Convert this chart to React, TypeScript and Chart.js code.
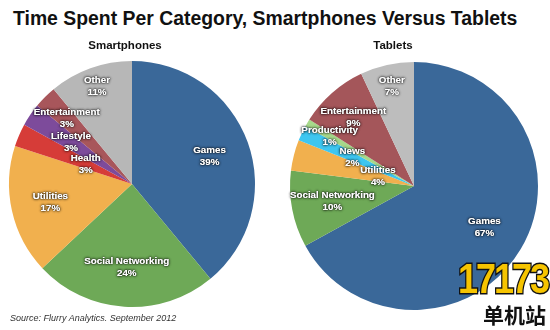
import React, { useEffect, useRef } from "react";
import { Chart, registerables } from "chart.js";

Chart.register(...registerables);

// ---- data ----
const smartCategories = ["Games", "Social Networking", "Utilities", "Health", "Lifestyle", "Entertainment", "Other"];
const smartValues = [39, 24, 17, 3, 3, 3, 11];

const tabletCategories = ["Games", "Social Networking", "Utilities", "News", "Productivity", "Entertainment", "Other"];
const tabletValues = [67, 10, 4, 2, 1, 9, 7];

// ---- styles ----
const smartColors = ["#3A6899", "#6EA957", "#F1B04E", "#D63C38", "#7D4B9B", "#A8565B", "#B7B7B7"];
const tabletColors = ["#3A6899", "#6EA957", "#F1B04E", "#3EC6F0", "#A7D98B", "#A4565A", "#BDBDBD"];
// radial position of each slice label, as a fraction of the pie radius
const smartLabelRadius = [0.67, 0.68, 0.68, 0.41, 0.6, 0.75, 0.84];
const tabletLabelRadius = [0.66, 0.67, 0.3, 0.55, 0.79, 0.74, 0.82];

const FONT = "'Liberation Sans', Arial, Helvetica, sans-serif";

const sliceLabels = {
  id: "sliceLabels",
  afterDatasetsDraw(chart: any, _args: any, opts: any) {
    const ctx = chart.ctx;
    const meta = chart.getDatasetMeta(0);
    const ds = chart.data.datasets[0];
    const labels = chart.data.labels;
    const radii: number[] = opts.radii || [];
    ctx.save();
    ctx.font = `bold 9.8px ${FONT}`;
    ctx.textAlign = "center";
    ctx.textBaseline = "middle";
    meta.data.forEach((arc: any, i: number) => {
      const p = arc.getProps(["x", "y", "startAngle", "endAngle", "outerRadius"], true);
      const mid = (p.startAngle + p.endAngle) / 2;
      const r = p.outerRadius * (radii[i] ?? 0.65);
      const x = p.x + Math.cos(mid) * r;
      const y = p.y + Math.sin(mid) * r;
      const lines = [String(labels[i]), `${ds.data[i]}%`];
      lines.forEach((t, k) => {
        const ty = y + (k - 0.5) * 12;
        ctx.shadowColor = "rgba(0,0,0,0.9)";
        ctx.shadowBlur = 2.5;
        ctx.shadowOffsetX = 0;
        ctx.shadowOffsetY = 0;
        ctx.fillStyle = "#ffffff";
        ctx.fillText(t, x, ty);
        ctx.fillText(t, x, ty);
      });
    });
    ctx.restore();
  },
};

type PieProps = {
  categories: string[];
  values: number[];
  colors: string[];
  radii: number[];
  left: number;
  top: number;
  width: number;
  height: number;
  radius: number;
};

function Pie({ categories, values, colors, radii, left, top, width, height, radius }: PieProps) {
  const ref = useRef<HTMLCanvasElement | null>(null);
  useEffect(() => {
    if (!ref.current) return;
    const chart = new Chart(ref.current, {
      type: "pie",
      data: {
        labels: categories,
        datasets: [
          {
            data: values,
            backgroundColor: colors,
            borderWidth: 0,
          },
        ],
      },
      options: {
        responsive: false,
        maintainAspectRatio: false,
        animation: false,
        radius: radius,
        layout: { padding: 0 },
        plugins: {
          legend: { display: false },
          tooltip: { enabled: false },
          title: { display: false },
          // @ts-ignore
          sliceLabels: { radii },
        },
      } as any,
      plugins: [sliceLabels as any],
    });
    return () => chart.destroy();
  }, []);
  return (
    <canvas
      ref={ref}
      width={width}
      height={height}
      style={{ position: "absolute", left, top, width, height }}
    />
  );
}

export default function App() {
  return (
    <div
      style={{
        position: "fixed",
        left: 0,
        top: 0,
        width: 550,
        height: 330,
        background: "#ffffff",
        overflow: "hidden",
        fontFamily: FONT,
      }}
    >
      <Pie
        categories={smartCategories}
        values={smartValues}
        colors={smartColors}
        radii={smartLabelRadius}
        left={0}
        top={49}
        width={264}
        height={270}
        radius={123}
      />
      <Pie
        categories={tabletCategories}
        values={tabletValues}
        colors={tabletColors}
        radii={tabletLabelRadius}
        left={278}
        top={51}
        width={272}
        height={270}
        radius={124}
      />
      <div
        style={{
          position: "absolute",
          left: 13,
          top: 9,
          fontSize: 19.4,
          lineHeight: "19px",
          fontWeight: "bold",
          color: "#111",
          whiteSpace: "nowrap",
        }}
      >
        Time Spent Per Category, Smartphones Versus Tablets
      </div>
      <div
        style={{
          position: "absolute",
          left: 25,
          width: 200,
          top: 40,
          fontSize: 11.5,
          lineHeight: "11.5px",
          fontWeight: "bold",
          color: "#111",
          textAlign: "center",
        }}
      >
        Smartphones
      </div>
      <div
        style={{
          position: "absolute",
          left: 293,
          width: 200,
          top: 40,
          fontSize: 11.5,
          lineHeight: "11.5px",
          fontWeight: "bold",
          color: "#111",
          textAlign: "center",
        }}
      >
        Tablets
      </div>
      <div
        style={{
          position: "absolute",
          left: 10,
          top: 314,
          fontSize: 9,
          lineHeight: "9px",
          fontStyle: "italic",
          color: "#333",
          whiteSpace: "nowrap",
        }}
      >
        Source: Flurry Analytics. September 2012
      </div>
      <div
        style={{
          position: "absolute",
          right: 2,
          top: 257,
          fontSize: 36,
          lineHeight: "36px",
          fontWeight: 900,
          color: "#F6C400",
          WebkitTextStroke: "2.5px #111",
          paintOrder: "stroke fill",
          letterSpacing: -2,
          transform: "scaleY(1.2)",
          transformOrigin: "top",
          whiteSpace: "nowrap",
        } as any}
      >
        17173
      </div>
      <div
        style={{
          position: "absolute",
          right: 4,
          top: 302,
          fontSize: 21,
          lineHeight: "24px",
          fontWeight: "bold",
          fontFamily: "'Noto Sans CJK SC', sans-serif",
          color: "#111",
          whiteSpace: "nowrap",
        }}
      >
        单机站
      </div>
    </div>
  );
}
